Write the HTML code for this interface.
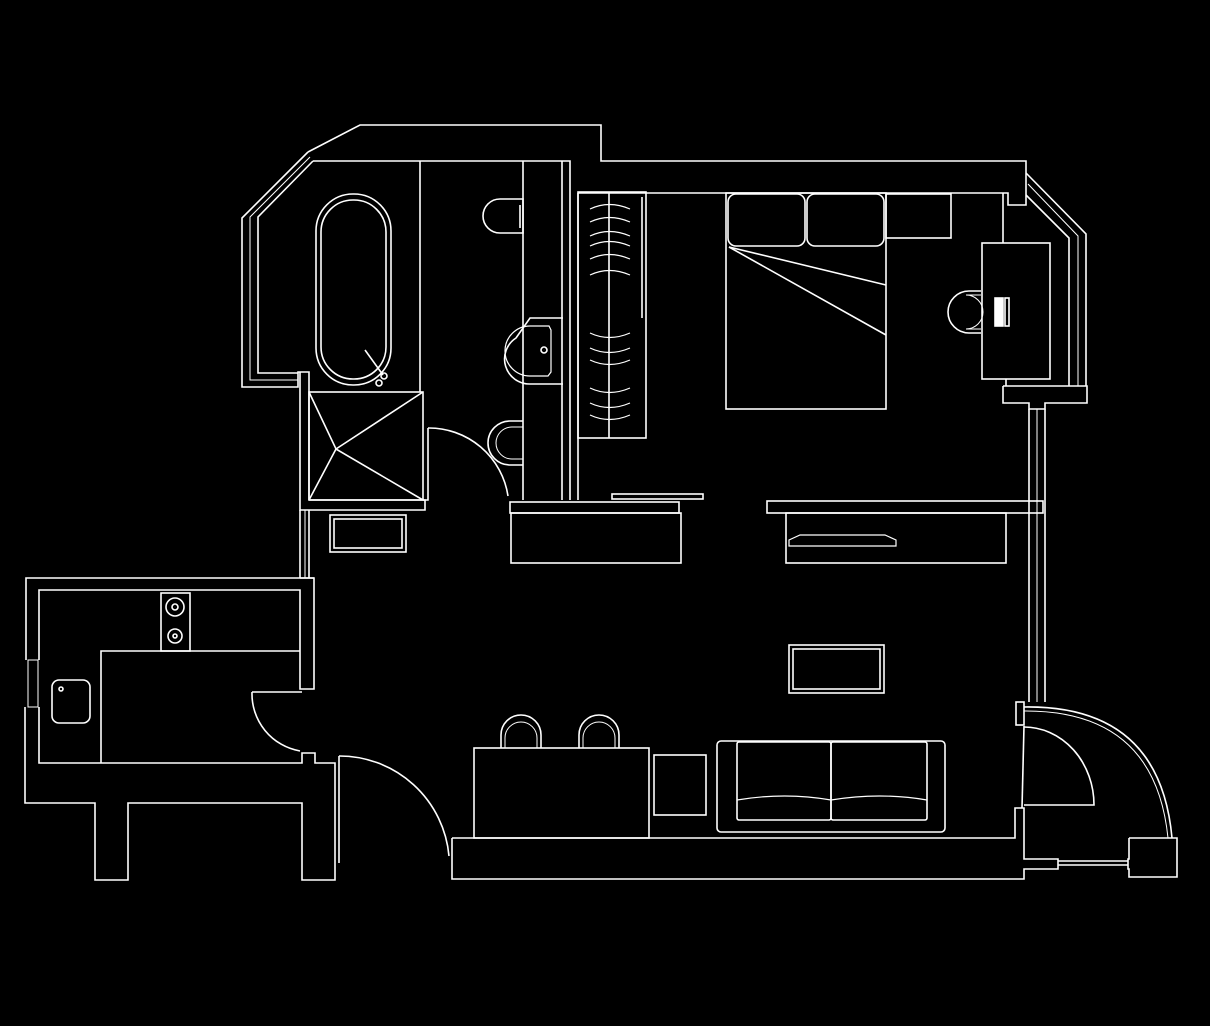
<!DOCTYPE html>
<html><head><meta charset="utf-8"><style>html,body{margin:0;padding:0;background:#000}svg{display:block}</style></head>
<body>
<svg width="1210" height="1026" viewBox="0 0 1210 1026" xmlns="http://www.w3.org/2000/svg">
<rect width="1210" height="1026" fill="#000"/>
<g fill="none" stroke="#fff" stroke-width="1.6" stroke-linejoin="miter">
<!-- top walls -->
<polyline points="308,152 360,125 601,125 601,161 1026,161 1026,205 1008,205 1008,193 578,193"/>
<polyline points="313,161 570,161 570,500"/>
<line x1="578" y1="193" x2="578" y2="500"/>
<line x1="420" y1="161" x2="420" y2="392"/>
<!-- left bath window -->
<polyline points="308,152 242,218 242,387 298,387 298,372 309,372 309,500"/>
<polyline points="313,161 258,217 258,373 298,373"/>
<polyline points="310,157 250,217 250,380 298,380" stroke-width="1"/>
<!-- bathtub -->
<rect x="316" y="194" width="75" height="191" rx="37" ry="37"/>
<rect x="321" y="200" width="65" height="179" rx="32" ry="32"/>
<line x1="365" y1="350" x2="383" y2="375"/>
<circle cx="384" cy="376" r="3"/><circle cx="379" cy="383" r="3"/>
<!-- shower -->
<polyline points="300,372 300,510 425,510 425,500 309,500"/>
<rect x="309" y="392" width="114" height="108"/>
<polyline points="309,392 336,449 423,392"/><polyline points="309,500 336,449 423,500"/>
<rect x="330" y="515" width="76" height="37"/>
<rect x="334" y="519" width="68" height="29"/>
<line x1="300" y1="510" x2="300" y2="578"/><line x1="309" y1="510" x2="309" y2="578"/>
<line x1="305" y1="510" x2="305" y2="578" stroke-width="1"/>
<!-- bathroom door -->
<polyline points="423,500 428,500 428,428"/>
<path d="M428,428 A80,80 0 0 1 508,496"/>
<!-- toilet/sink partition -->
<line x1="523" y1="161" x2="523" y2="500"/>
<line x1="562" y1="161" x2="562" y2="500"/>
<path d="M523,199 L500,199 A17,17 0 0 0 500,233 L523,233 Z"/>
<line x1="520" y1="205" x2="520" y2="228"/>
<path d="M563,318 L530,318 L516,338 A25,25 0 0 0 530,384 L563,384"/>
<path d="M530,326 L549,326 L551,330 L551,372 L548,376 L530,376 A22,22 0 0 1 530,326Z" stroke-width="1.2"/>
<circle cx="544" cy="350" r="3"/>
<path d="M523,421 L510,421 A22,22 0 0 0 510,465 L523,465"/>
<path d="M523,427 L512,427 A16,16 0 0 0 512,459 L523,459" stroke-width="1"/>
<!-- wardrobe -->
<rect x="578" y="192" width="68" height="246"/>
<line x1="609" y1="192" x2="609" y2="438"/>
<line x1="642" y1="197" x2="642" y2="318"/>
<g stroke-width="1.2">
<path d="M590,209 Q609,200 630,209"/><path d="M590,222 Q609,213 630,222"/><path d="M590,236 Q609,227 630,236"/><path d="M590,246 Q609,237 630,246"/><path d="M590,259 Q609,250 630,259"/><path d="M590,275 Q609,266 630,275"/>
<path d="M590,333 Q609,342 630,333"/><path d="M590,348 Q609,357 630,348"/><path d="M590,360 Q609,369 630,360"/><path d="M590,388 Q609,397 630,388"/><path d="M590,403 Q609,412 630,403"/><path d="M590,415 Q609,424 630,415"/>
</g>
<rect x="510" y="502" width="169" height="11"/>
<rect x="511" y="513" width="170" height="50"/>
<rect x="612" y="494" width="91" height="5"/>
<!-- bedroom -->
<rect x="726" y="193" width="160" height="216"/>
<rect x="728" y="194" width="77" height="52" rx="8"/>
<rect x="807" y="194" width="77" height="52" rx="8"/>
<rect x="886" y="194" width="65" height="44"/>
<line x1="729" y1="247" x2="886" y2="285"/><line x1="729" y1="247" x2="886" y2="335"/>
<line x1="1003" y1="193" x2="1003" y2="243"/>
<rect x="982" y="243" width="68" height="136"/>
<line x1="1006" y1="379" x2="1006" y2="386"/>
<path d="M981,291 L969,291 A21,21 0 0 0 969,333 L981,333"/>
<path d="M981,295 L966,295 A17,17 0 0 1 966,329 L981,329" stroke-width="1"/>
<rect x="995" y="298" width="8" height="28" fill="#fff"/>
<rect x="1005" y="298" width="4" height="28"/>
<!-- right window -->
<polyline points="1026,173 1086,234 1086,386"/>
<polyline points="1026,195 1069,238 1069,386"/>
<polyline points="1028,184 1078,236 1078,386" stroke-width="1"/>
<polyline points="1003,386 1087,386 1087,403 1045,403 1045,409 1029,409 1029,403 1003,403 1003,386"/>
<line x1="1029" y1="409" x2="1029" y2="702"/><line x1="1045" y1="409" x2="1045" y2="702"/>
<line x1="1037" y1="409" x2="1037" y2="702" stroke-width="1"/>
<!-- shelf wall -->
<rect x="767" y="501" width="276" height="12"/>
<rect x="786" y="513" width="220" height="50"/>
<path d="M789,540 L800,535 L885,535 L896,540 L896,546 L789,546 Z" stroke-width="1.2"/>
<!-- kitchen -->
<polyline points="300,578 314,578 314,689 300,689 300,590 39,590 39,660"/>
<polyline points="314,578 26,578 26,660"/>
<rect x="28" y="660" width="10" height="47" stroke-width="1"/>
<polyline points="25,707 25,803 95,803 95,880 128,880 128,803 302,803 302,880 335,880 335,763 315,763 315,753 302,753 302,763 39,763 39,707"/>
<polyline points="101,763 101,651 300,651"/>
<rect x="161" y="593" width="29" height="58"/>
<circle cx="175" cy="607" r="9"/><circle cx="175" cy="607" r="3"/>
<circle cx="175" cy="636" r="7"/><circle cx="175" cy="636" r="2"/>
<rect x="52" y="680" width="38" height="43" rx="7"/>
<circle cx="61" cy="689" r="2"/>
<line x1="252" y1="692" x2="302" y2="692"/>
<path d="M252,692 A58,58 0 0 0 300,751"/>
<!-- entrance door -->
<line x1="339" y1="756" x2="339" y2="863"/>
<path d="M339,756 A110,110 0 0 1 449,856"/>
<!-- bottom wall -->
<polyline points="452,838 1015,838 1015,808 1024,808 1024,859 1058,859 1058,869 1024,869 1024,879 452,879 452,838"/>
<polyline points="1129,838 1177,838 1177,877 1129,877 1129,869 1128,869 1128,859 1129,859 1129,838"/>
<line x1="1058" y1="861" x2="1128" y2="861"/><line x1="1058" y1="865" x2="1128" y2="865"/>
<!-- right door -->
<rect x="1016" y="702" width="8" height="23"/>
<line x1="1024" y1="726" x2="1022" y2="808"/>
<path d="M1024,727 A70,78 0 0 1 1094,805 L1024,805"/>
<path d="M1024,707 Q1160,705 1172,838"/>
<path d="M1024,711 Q1155,710 1168,838" stroke-width="1"/>
<!-- living -->
<rect x="474" y="748" width="175" height="90"/>
<path d="M501,748 L501,735 A20,20 0 0 1 541,735 L541,748"/>
<path d="M505,748 L505,738 A16,16 0 0 1 537,738 L537,748" stroke-width="1"/>
<path d="M579,748 L579,735 A20,20 0 0 1 619,735 L619,748"/>
<path d="M583,748 L583,738 A16,16 0 0 1 615,738 L615,748" stroke-width="1"/>
<rect x="654" y="755" width="52" height="60"/>
<rect x="717" y="741" width="228" height="91" rx="4"/>
<rect x="737" y="742" width="94" height="78" rx="2"/>
<rect x="831" y="742" width="96" height="78" rx="2"/>
<path d="M737,800 Q785,792 831,800 Q880,792 927,800" stroke-width="1.2"/>
<rect x="789" y="645" width="95" height="48"/>
<rect x="793" y="649" width="87" height="40"/>
</g>
</svg>
</body></html>
